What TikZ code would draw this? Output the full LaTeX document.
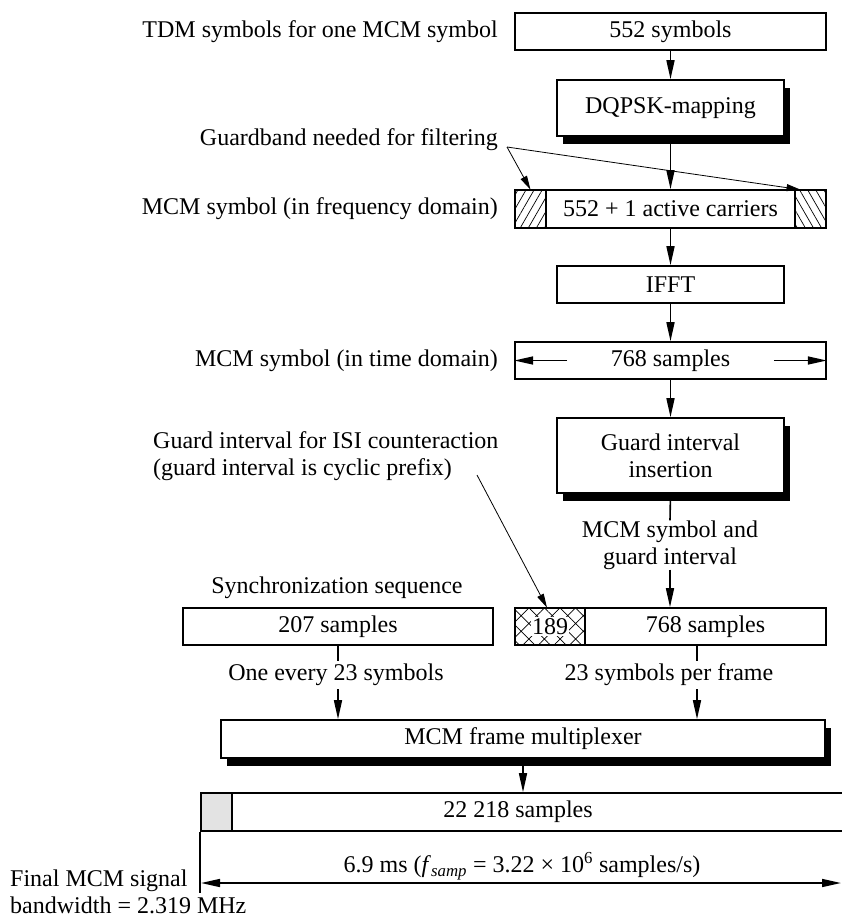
\documentclass[tikz,border=0pt]{standalone}
\usepackage{fontspec}
\setmainfont{Liberation Serif}
\usetikzlibrary{arrows.meta,patterns.meta,shadows}
\newcommand\diagfont{\fontsize{24}{27}\selectfont}
\tikzset{
  box/.style={draw, line width=1.6pt, fill=white, inner sep=0pt, font=\diagfont, align=center},
  shadowed/.style={drop shadow={shadow xshift=6pt, shadow yshift=-8pt, opacity=1, fill=black}},
  lbl/.style={inner sep=0pt, font=\diagfont},
  flow/.style={line width=1.6pt, -{Triangle[length=19pt,width=8pt]}},
  plain/.style={line width=1.6pt},
  pointer/.style={line width=0.8pt, -{Triangle[length=14pt,width=7pt]}},
  bandL/.style={draw, line width=1.6pt, inner sep=0pt, pattern={Lines[angle=60,distance=7pt,line width=0.7pt]}},
  bandR/.style={draw, line width=1.6pt, inner sep=0pt, pattern={Lines[angle=120,distance=7pt,line width=0.7pt]}},
  cross/.style={draw, line width=1.6pt, inner sep=0pt, pattern={Hatch[angle=45,distance=11pt,line width=0.7pt]}},
}
\begin{document}
\begin{tikzpicture}[x=1pt,y=-1pt]
\useasboundingbox (0,0) rectangle (842,919);
\begin{scope}
\clip (0,0) rectangle (842,919);

% ---- processing chain ----
\node[box, minimum width=311pt, minimum height=37pt] (n552) at (670.5,31.5) {552 symbols};
\node[box, shadowed, minimum width=227pt, minimum height=56pt] (dqpsk) at (670.5,108) {DQPSK-mapping};
\node[box, minimum width=311pt, minimum height=38pt] (freq) at (670.5,209) {552 + 1 active carriers};
\node[bandL, minimum width=31pt, minimum height=38pt] (gbL) at (530.5,209) {};
\node[bandR, minimum width=31pt, minimum height=38pt] (gbR) at (810.5,209) {};
\node[box, minimum width=227pt, minimum height=37pt] (ifft) at (670.5,284.5) {IFFT};
\node[box, minimum width=311pt, minimum height=37pt] (time) at (670.5,360.5) {768 samples};
\node[box, shadowed, minimum width=227pt, minimum height=75pt] (guard) at (670.5,455.5) {Guard interval\\insertion};

% ---- left-hand captions ----
\node[lbl, anchor=east] (tdm) at (498,31.5) {TDM symbols for one MCM symbol};
\node[lbl, anchor=east] (gbt) at (498,140) {Guardband needed for filtering};
\node[lbl, anchor=east] (freqlbl) at (498,209) {MCM symbol (in frequency domain)};
\node[lbl, anchor=east] (timelbl) at (498,360.5) {MCM symbol (in time domain)};
\node[lbl, anchor=west, align=left] (gitxt) at (153,456) {Guard interval for ISI counteraction\\(guard interval is cyclic prefix)};
\node[lbl, align=center] (gl) at (670,545) {MCM symbol and\\guard interval};
\node[lbl] (synclbl) at (337,588) {Synchronization sequence};

% ---- frame assembly ----
\node[box, minimum width=310pt, minimum height=37pt] (sync) at (338,626.5) {207 samples};
\node[cross, minimum width=70pt, minimum height=37pt] (gi189) at (550,626.5) {};
\node[fill=white, inner sep=1pt, font=\diagfont] (t189) at (550,626.5) {189};
\node[box, minimum width=241pt, minimum height=37pt] (sym768) at (705.5,626.5) {768 samples};
\node[lbl, inner sep=3pt] (tl) at (336,675) {One every 23 symbols};
\node[lbl, inner sep=3pt] (tr) at (669,675) {23 symbols per frame};
\node[box, shadowed, minimum width=604pt, minimum height=38pt] (mux) at (523,739) {MCM frame multiplexer};

% ---- final frame ----
\node[box, fill=gray!22, minimum width=31pt, minimum height=38pt] (grey) at (216.5,812) {};
\node[box, minimum width=628pt, minimum height=38pt] (frame) at (546,812) {};
\node[lbl] (frametxt) at (518,812) {22 218 samples};
\node[lbl] (dur) at (522,866) {6.9 ms (\textit{f}\textsubscript{\textit{samp}} = 3.22 × 10\textsuperscript{6} samples/s)};
\node[lbl, anchor=west, align=left] (bw) at (10,892) {Final MCM signal\\bandwidth = 2.319 MHz};

% ---- helper points ----
\coordinate (gbApex) at (507,147);
\coordinate (giStart) at (477,475);
\coordinate (xl) at (338,0);
\coordinate (xr) at (697,0);
\coordinate (dimL) at (201,883);
\coordinate (dimR) at (841,883);

% ---- connectors ----
\draw[flow] (n552.south) -- (dqpsk.north);
\draw[flow] (dqpsk.south) -- (freq.north);
\draw[flow] (freq.south) -- (ifft.north);
\draw[flow] (ifft.south) -- (time.north);
\draw[flow] (time.south) -- (guard.north);
\draw[flow] ([xshift=53pt]time.west) -- (time.west);
\draw[flow] ([xshift=-53pt]time.east) -- (time.east);
\draw[plain] (guard.south) -- (gl.north);
\draw[flow] (gl.south) -- (gl.south |- sym768.north);

\draw[pointer] (gbApex) -- (gbL.north);
\draw[pointer] (gbApex) -- ([xshift=-10pt]gbR.north);
\draw[pointer] (giStart) -- ([xshift=-3pt]gi189.north);

\draw[plain] (sync.south) -- (tl.north -| xl);
\draw[flow] (tl.south -| xl) -- (mux.north -| xl);
\draw[plain] (sym768.south -| xr) -- (tr.north -| xr);
\draw[flow] (tr.south -| xr) -- (mux.north -| xr);
\draw[flow] (mux.south) -- (mux.south |- frame.north);

\draw[plain] (grey.south west) -- ++(0,61);
\draw[line width=1.6pt, {Triangle[length=19pt,width=8pt]}-{Triangle[length=19pt,width=8pt]}] (dimL) -- (dimR);
\end{scope}
\end{tikzpicture}
\end{document}
